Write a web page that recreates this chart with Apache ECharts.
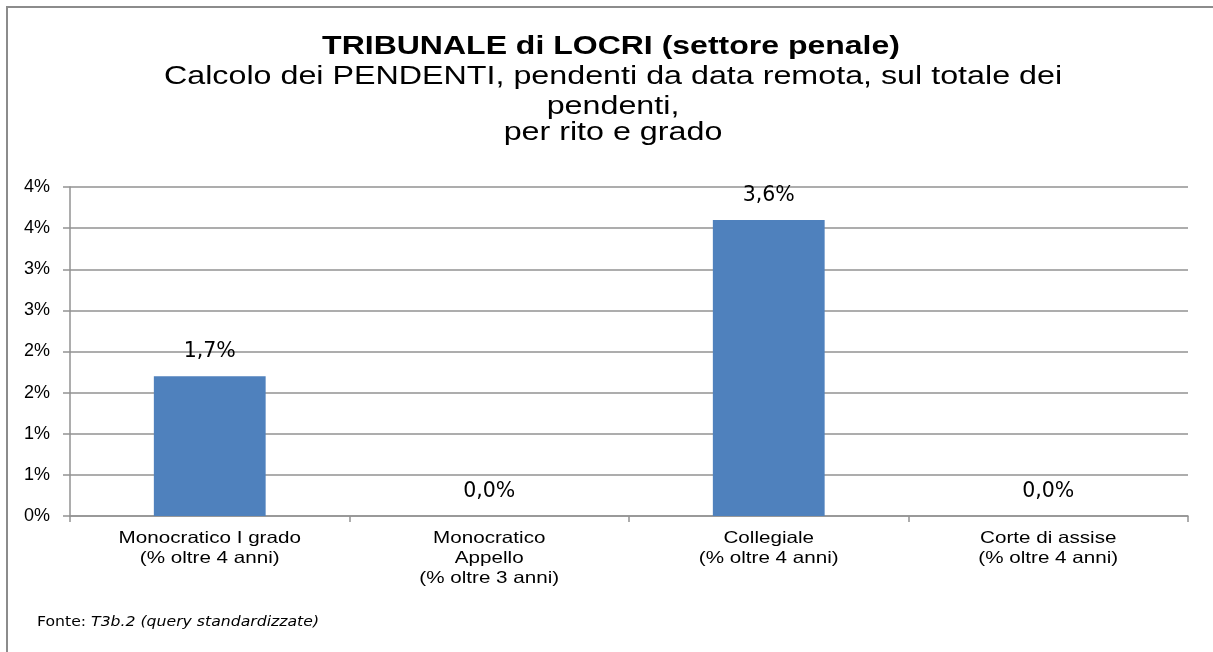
<!DOCTYPE html>
<html>
<head>
<meta charset="utf-8">
<script src="https://cdn.jsdelivr.net/npm/echarts@6/dist/echarts.min.js"></script>
<style>html,body{margin:0;padding:0;background:#fff;}#c{width:1213px;height:652px;}</style>
</head>
<body>
<div id="c"></div>
<script>
var categories = ['Monocratico I grado\n(% oltre 4 anni)', 'Monocratico\nAppello\n(% oltre 3 anni)', 'Collegiale\n(% oltre 4 anni)', 'Corte di assise\n(% oltre 4 anni)'];
var values = [1.7, 0.0, 3.6, 0.0];
var titleLines = ['TRIBUNALE di LOCRI (settore penale)'];
var subLines = ['Calcolo dei PENDENTI, pendenti da data remota, sul totale dei', 'pendenti,', 'per rito e grado'];
var sourceLabel = 'Fonte: ';
var sourceText = 'T3b.2 (query standardizzate)';

var chart = echarts.init(document.getElementById('c'));
var gridColor = '#929292';
chart.setOption({
  animation: false,
  backgroundColor: '#fff',
  grid: {left: 70, right: 25, top: 187, bottom: 136, containLabel: false},
  xAxis: {
    type: 'category',
    data: categories,
    axisLine: {lineStyle: {color: gridColor, width: 1.5}},
    axisTick: {show: true, length: 6, lineStyle: {color: gridColor, width: 1.5}},
    axisLabel: {show: false}
  },
  yAxis: {
    type: 'value',
    min: 0, max: 4, interval: 0.5,
    axisLine: {show: true, lineStyle: {color: gridColor, width: 1.5}},
    axisTick: {show: true, length: 7, lineStyle: {color: gridColor, width: 1.5}},
    splitLine: {lineStyle: {color: gridColor, width: 1.5}},
    axisLabel: {fontFamily: 'Liberation Sans', fontSize: 18, color: '#000', margin: 20,
      formatter: function (v) { return Math.round(v) + '%'; }}
  },
  series: [{
    type: 'bar',
    data: values,
    barWidth: '40%',
    itemStyle: {color: '#4F81BD'},
    label: {
      show: true, position: 'top', distance: 14,
      fontFamily: 'DejaVu Sans', fontSize: 20.5, color: '#000',
      formatter: function (p) { return p.value.toFixed(1).replace('.', ',') + '%'; }
    }
  }]
});

var g = [
  {type: 'line', shape: {x1: 6, y1: 7, x2: 1213, y2: 7}, style: {stroke: '#8c8c8c', lineWidth: 2}},
  {type: 'line', shape: {x1: 7, y1: 6, x2: 7, y2: 652}, style: {stroke: '#8c8c8c', lineWidth: 2}}
];
var tY = [47, 77, 107, 133];
titleLines.forEach(function (t, i) {
  g.push({type: 'text', x: 611, y: tY[i], scaleX: 1.28, style: {
    text: t, x: 0, y: 0, align: 'center', verticalAlign: 'middle',
    font: 'bold 25px "Liberation Sans"', fill: '#000'}});
});
subLines.forEach(function (t, i) {
  g.push({type: 'text', x: 613, y: tY[i + 1], scaleX: 1.29, style: {
    text: t, x: 0, y: 0, align: 'center', verticalAlign: 'middle',
    font: '25px "Liberation Sans"', fill: '#000'}});
});
// category labels placed through the category axis scale
var baseY = chart.convertToPixel({yAxisIndex: 0}, 0);
categories.forEach(function (c, i) {
  var px = chart.convertToPixel({xAxisIndex: 0}, i);
  c.split('\n').forEach(function (line, j) {
    g.push({type: 'text', x: px, y: baseY + 22 + j * 20, scaleX: 1.25, style: {
      text: line, x: 0, y: 0, align: 'center', verticalAlign: 'middle',
      font: '16.5px "Liberation Sans"', fill: '#000'}});
  });
});
g.push({type: 'text', x: 37, y: 622, scaleX: 1.12, style: {
  text: '{n|' + sourceLabel + '}{i|' + sourceText + '}', x: 0, y: 0, verticalAlign: 'middle',
  rich: {
    n: {fontFamily: 'DejaVu Sans', fontSize: 14, fill: '#000'},
    i: {fontFamily: 'DejaVu Sans', fontSize: 14, fontStyle: 'italic', fill: '#000'}
  }}});
chart.setOption({graphic: g});
</script>
</body>
</html>
